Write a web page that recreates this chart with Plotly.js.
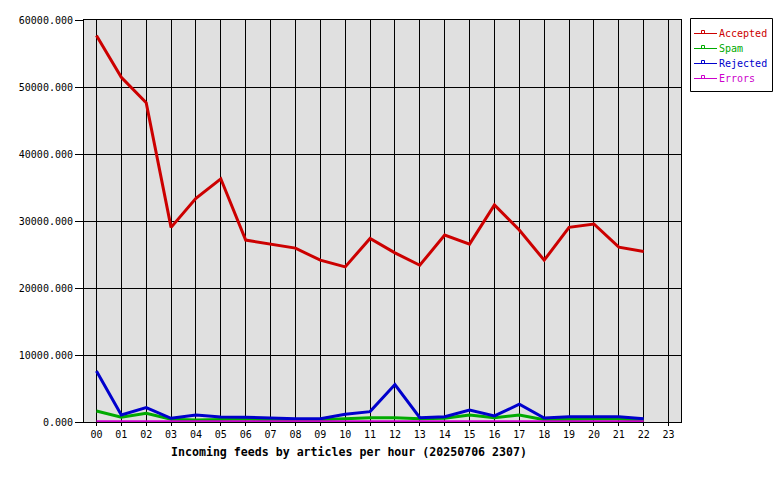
<!DOCTYPE html>
<html>
<head>
<meta charset="utf-8">
<script src="https://cdn.plot.ly/plotly-3.0.1.min.js"></script>
<style>html,body{margin:0;padding:0;background:#fff;}#chart{width:780px;height:480px;}</style>
</head>
<body>
<div id="chart"></div>
<script>
const hours = ['00','01','02','03','04','05','06','07','08','09','10','11','12','13','14','15','16','17','18','19','20','21','22'];
const allHourLabels = ['00','01','02','03','04','05','06','07','08','09','10','11','12','13','14','15','16','17','18','19','20','21','22','23'];
const seriesNames = ['Accepted', 'Spam', 'Rejected', 'Errors'];
const accepted = [57700, 51450, 47650, 29050, 33400, 36300, 27150, 26550, 25950, 24150, 23150, 27400, 25250, 23400, 27900, 26550, 32400, 28650, 24150, 29050, 29550, 26100, 25450];
const spam     = [1650, 700, 1300, 400, 300, 400, 450, 300, 300, 350, 500, 650, 650, 500, 550, 1050, 650, 1050, 350, 450, 450, 450, 250];
const rejected = [7600, 1050, 2150, 550, 1050, 750, 700, 550, 500, 500, 1150, 1550, 5600, 650, 800, 1800, 900, 2650, 600, 800, 800, 800, 500];
const errors   = [60, 60, 60, 60, 60, 60, 60, 60, 60, 60, 60, 60, 60, 60, 60, 60, 60, 60, 60, 60, 60, 60, 60];
const yTicks = [0, 10000, 20000, 30000, 40000, 50000, 60000];

const colors = ['#cc0000', '#00aa00', '#0000cc', '#cc00cc'];
const values = [accepted, spam, rejected, errors];
const widths = [3, 3, 3, 2.5];

const xIdx = hours.map((h, i) => i);
const mono = 'DejaVu Sans Mono, Liberation Mono, monospace';

// plot area in pixels
const L = 84, R = 681, T = 20, B = 422;
const px = v => (v - L) / (R - L);
const py = v => (B - v) / (B - T);

const data = values.map((vals, i) => ({
  x: xIdx, y: vals, type: 'scatter', mode: 'lines',
  name: seriesNames[i],
  line: {color: colors[i], width: widths[i]},
  hoverinfo: 'skip', showlegend: false
}));

// custom legend
const shapes = [{
  type: 'rect', xref: 'paper', yref: 'paper',
  x0: px(690.5), x1: px(772.5), y0: py(18.5), y1: py(91.5),
  line: {color: '#000', width: 1}, fillcolor: '#fff', layer: 'above'
}];
const annotations = [];
seriesNames.forEach((n, i) => {
  const yc = 33 + i * 15;
  shapes.push({
    type: 'line', xref: 'paper', yref: 'paper',
    x0: px(694), x1: px(717), y0: py(yc + 0.5), y1: py(yc + 0.5),
    line: {color: colors[i], width: 1}, layer: 'above'
  });
  shapes.push({
    type: 'rect', xref: 'paper', yref: 'paper',
    x0: px(701.5), x1: px(704.5), y0: py(yc - 2.5), y1: py(yc + 0.5),
    line: {color: colors[i], width: 1}, fillcolor: 'rgba(0,0,0,0)', layer: 'above'
  });
  annotations.push({
    text: n, xref: 'paper', yref: 'paper', x: px(717), y: py(yc),
    xanchor: 'left', yanchor: 'middle', showarrow: false,
    font: {family: mono, size: 10, color: colors[i]}
  });
});
annotations.push({
  text: '<b>Incoming feeds by articles per hour (20250706 2307)</b>',
  xref: 'paper', yref: 'paper', x: px(349), y: py(452), xanchor: 'center', yanchor: 'middle',
  showarrow: false, font: {family: mono, size: 11.6, color: '#000'}
});

const layout = {
  width: 780, height: 480,
  margin: {l: L, r: 780 - R, t: T, b: 480 - B, pad: 0, autoexpand: false},
  paper_bgcolor: '#ffffff',
  plot_bgcolor: '#e0e0e0',
  font: {family: mono, size: 10, color: '#000'},
  showlegend: false,
  xaxis: {
    range: [-0.5, 23.5],
    tickmode: 'array', tickvals: allHourLabels.map((h, i) => i), ticktext: allHourLabels,
    showgrid: true, gridcolor: '#000000', gridwidth: 1,
    zeroline: false, showline: true, linecolor: '#000', linewidth: 1, mirror: true,
    ticks: 'outside', ticklen: 3, tickcolor: '#000',
    tickfont: {family: mono, size: 10}, fixedrange: true
  },
  yaxis: {
    range: [0, 60000],
    tickmode: 'array', tickvals: yTicks, ticktext: yTicks.map(v => v.toFixed(3)),
    showgrid: true, gridcolor: '#000000', gridwidth: 1,
    zeroline: false, showline: true, linecolor: '#000', linewidth: 1, mirror: true,
    ticks: 'outside', ticklen: 8, tickcolor: '#000',
    tickfont: {family: mono, size: 10}, fixedrange: true
  },
  shapes: shapes,
  annotations: annotations
};

Plotly.newPlot('chart', data, layout, {staticPlot: true, displayModeBar: false});
</script>
</body>
</html>
